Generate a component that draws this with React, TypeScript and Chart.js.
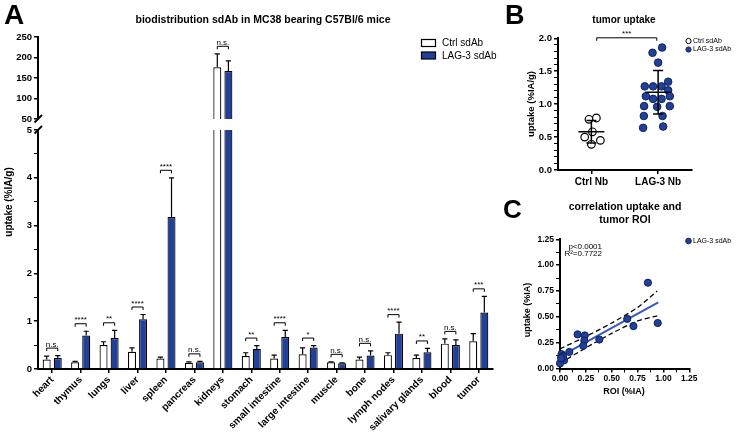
import React, { useEffect, useRef } from 'react';
import { Chart, registerables } from 'chart.js';

Chart.register(...registerables);

const W = 737;
const H = 433;
const FF = '"Liberation Sans", Arial, Helvetica, sans-serif';
const NAVY = '#21409a';
const NAVY_EDGE = '#0f2260';
const INK = '#000000';

// ---------------- Panel A : biodistribution ----------------
const organs = ['heart', 'thymus', 'lungs', 'liver', 'spleen', 'pancreas', 'kidneys', 'stomach', 'small intestine', 'large intestine', 'muscle', 'bone', 'lymph nodes', 'salivary glands', 'blood', 'tumor'];
const ctrlMean = [0.20, 0.14, 0.50, 0.36, 0.22, 0.13, 176, 0.27, 0.22, 0.31, 0.14, 0.20, 0.29, 0.23, 0.53, 0.58];
const ctrlSD = [0.07, 0.02, 0.07, 0.08, 0.03, 0.02, 33, 0.07, 0.07, 0.13, 0.01, 0.05, 0.05, 0.06, 0.10, 0.16];
const lagMean = [0.23, 0.70, 0.65, 1.04, 3.18, 0.14, 167, 0.42, 0.67, 0.45, 0.12, 0.28, 0.74, 0.35, 0.50, 1.18];
const lagSD = [0.05, 0.09, 0.16, 0.10, 0.82, 0.02, 25, 0.07, 0.14, 0.04, 0.01, 0.10, 0.24, 0.08, 0.11, 0.34];
const sigLabels = ['n.s.', '****', '**', '****', '****', 'n.s.', 'n.s.', '**', '****', '*', 'n.s.', 'n.s.', '****', '**', 'n.s.', '***'];
const seriesNames = ['Ctrl sdAb', 'LAG-3 sdAb'];

// ---------------- Panel B : tumor uptake ----------------
const groupLabels = ['Ctrl Nb', 'LAG-3 Nb'];
const ctrlTumor = [0.77, 0.79, 0.58, 0.50, 0.45, 0.39];
const ctrlTumorJitter = [-0.036, 0.075, 0.015, -0.10, 0.135, 0.0];
const lagTumor = [1.86, 1.78, 1.63, 1.34, 1.27, 1.27, 1.27, 1.21, 1.12, 1.12, 1.08, 1.08, 0.97, 0.97, 0.96, 0.82, 0.82, 0.64, 0.66];
const lagTumorJitter = [0.06, -0.084, 0.0, 0.15, -0.2, -0.075, 0.051, 0.15, -0.184, 0.175, -0.075, 0.051, -0.21, 0.175, -0.015, -0.214, 0.066, -0.225, 0.075];
const groupMean = [0.58, 1.18];
const groupSD = [0.17, 0.33];

// ---------------- Panel C : correlation ----------------
const roi = [0.85, 0.945, 0.65, 0.71, 0.38, 0.17, 0.24, 0.235, 0.225, 0.09, 0.015, 0.025, 0.04, 0.0, 0.03, 0.01];
const roiUptake = [0.83, 0.44, 0.48, 0.41, 0.28, 0.33, 0.32, 0.27, 0.22, 0.16, 0.14, 0.12, 0.08, 0.05, 0.11, 0.10];
const fitX = [0, 0.95];
const fitY = [0.115, 0.64];
const bandX = [0, 0.25, 0.5, 0.75, 0.94];
const bandUpper = [0.19, 0.31, 0.44, 0.59, 0.75];
const bandLower = [0.05, 0.20, 0.34, 0.46, 0.51];

// ---------------- helpers ----------------
type TextItem = { t: string; x: number; y: number; size: number; bold?: boolean; align?: CanvasTextAlign; rot?: number; base?: CanvasTextBaseline; italic?: boolean };

function textPlugin(items: TextItem[]) {
  return {
    id: 'pageText',
    afterDraw(chart: any) {
      const ctx = chart.ctx;
      items.forEach((it) => {
        ctx.save();
        ctx.fillStyle = INK;
        ctx.font = `${it.italic ? 'italic ' : ''}${it.bold ? 'bold ' : ''}${it.size}px ${FF}`;
        ctx.textAlign = it.align || 'center';
        ctx.textBaseline = it.base || 'middle';
        ctx.translate(it.x, it.y);
        if (it.rot) ctx.rotate(it.rot);
        ctx.fillText(it.t, 0, 0);
        ctx.restore();
      });
    },
  };
}

function drawFn(id: string, fn: (chart: any, ctx: CanvasRenderingContext2D) => void, after = 'afterDraw') {
  return {
    id,
    [after](chart: any) {
      const ctx = chart.ctx;
      ctx.save();
      fn(chart, ctx);
      ctx.restore();
    },
  };
}

const boldFont = (size: number) => ({ family: FF, size, weight: 'bold' as const });

function valueAxis(min: number, max: number, step: number, width: number, fontSize: number, label: (v: number) => string) {
  return {
    type: 'linear',
    min,
    max,
    afterFit: (s: any) => { s.width = width; },
    ticks: { stepSize: step, maxTicksLimit: 1000, autoSkip: false, color: INK, font: boldFont(fontSize), padding: 2, callback: (v: number) => label(v) },
    grid: {
      display: true, drawOnChartArea: false, drawTicks: true, tickLength: 4, color: INK,
      lineWidth: (c: any) => (c.tick && label(c.tick.value) !== '' ? 1.5 : 1),
    },
    border: { display: true, color: INK, width: 2 },
  };
}

function barAnnotations(sdSets: number[][], labels: string[]) {
  return drawFn('barAnnotations', (chart, ctx) => {
    const y = chart.scales.y;
    const tops: (number | null)[][] = [];
    ctx.strokeStyle = INK;
    ctx.lineWidth = 1.2;
    chart.data.datasets.forEach((ds: any, d: number) => {
      const meta = chart.getDatasetMeta(d);
      tops[d] = [];
      meta.data.forEach((el: any, i: number) => {
        const v = ds.data[i];
        if (v == null) { tops[d][i] = null; return; }
        const top = v + sdSets[d][i];
        if (top > y.max) { tops[d][i] = null; return; }
        const py = y.getPixelForValue(top);
        tops[d][i] = py;
        ctx.beginPath();
        ctx.moveTo(el.x, el.y);
        ctx.lineTo(el.x, py);
        ctx.moveTo(el.x - 2.6, py);
        ctx.lineTo(el.x + 2.6, py);
        ctx.stroke();
      });
    });
    ctx.lineWidth = 1;
    ctx.fillStyle = INK;
    ctx.font = `8px ${FF}`;
    ctx.textAlign = 'center';
    ctx.textBaseline = 'alphabetic';
    labels.forEach((lab, i) => {
      const a = tops[0][i];
      const b = tops[1][i];
      if (a == null || b == null) return;
      const ea = chart.getDatasetMeta(0).data[i];
      const eb = chart.getDatasetMeta(1).data[i];
      const by = Math.min(a, b) - 7.5;
      ctx.beginPath();
      ctx.moveTo(ea.x, by + 3);
      ctx.lineTo(ea.x, by);
      ctx.lineTo(eb.x, by);
      ctx.lineTo(eb.x, by + 3);
      ctx.stroke();
      ctx.fillText(lab, (ea.x + eb.x) / 2, by - 1.5);
    });
  }, 'afterDatasetsDraw');
}

const baseOptions = {
  responsive: false,
  animation: false,
  devicePixelRatio: 1,
  events: [],
  plugins: { legend: { display: false }, title: { display: false }, tooltip: { enabled: false } },
};

function barDatasets(ctrl: (number | null)[], lag: (number | null)[]) {
  return [
    { label: seriesNames[0], data: ctrl, backgroundColor: '#ffffff', borderColor: INK, borderWidth: 1.2, barPercentage: 0.72, categoryPercentage: 0.78, clip: 0 },
    { label: seriesNames[1], data: lag, backgroundColor: NAVY, borderColor: INK, borderWidth: 1.2, barPercentage: 0.72, categoryPercentage: 0.78, clip: 0 },
  ];
}

function upperConfig(): any {
  const ctrlUp = ctrlMean.map((v) => (v > 5 ? v : null));
  const lagUp = lagMean.map((v) => (v > 5 ? v : null));
  return {
    type: 'bar',
    data: { labels: organs, datasets: barDatasets(ctrlUp, lagUp) },
    options: {
      ...baseOptions,
      layout: { padding: { left: 0, top: 37, right: W - 493, bottom: H - 119 } },
      scales: {
        x: { display: false },
        y: valueAxis(50, 250, 50, 38, 9.5, (v) => String(v)),
      },
    },
    plugins: [
      barAnnotations([ctrlSD, lagSD], sigLabels),
      drawFn('breakUpper', (chart, ctx) => {
        ctx.strokeStyle = INK;
        ctx.lineWidth = 1.8;
        ctx.beginPath();
        ctx.moveTo(34.5, 122.5);
        ctx.lineTo(42, 115);
        ctx.stroke();
      }),
      drawFn('legendA', (chart, ctx) => {
        const fills = ['#ffffff', NAVY];
        const ys = [39.5, 52];
        ctx.lineWidth = 1.2;
        ctx.strokeStyle = INK;
        ctx.font = `10px ${FF}`;
        ctx.textAlign = 'left';
        ctx.textBaseline = 'middle';
        seriesNames.forEach((name, i) => {
          ctx.fillStyle = fills[i];
          ctx.fillRect(421.5, ys[i], 14, 7);
          ctx.strokeRect(421.5, ys[i], 14, 7);
          ctx.fillStyle = INK;
          ctx.fillText(name, 442, ys[i] + 3.8);
        });
      }),
      textPlugin([
        { t: 'A', x: 4, y: 23.5, size: 28, bold: true, align: 'left', base: 'alphabetic' },
        { t: 'biodistribution sdAb in MC38 bearing C57Bl/6 mice', x: 263, y: 20, size: 10.5, bold: true },
      ]),
    ],
  };
}

function lowerConfig(): any {
  return {
    type: 'bar',
    data: { labels: organs, datasets: barDatasets(ctrlMean, lagMean) },
    options: {
      ...baseOptions,
      layout: { padding: { left: 0, top: 130, right: W - 493, bottom: 0 } },
      scales: {
        x: {
          type: 'category',
          afterFit: (s: any) => { s.height = 64; },
          ticks: { color: INK, font: boldFont(10), minRotation: 45, maxRotation: 45, autoSkip: false, padding: 1 },
          grid: { display: true, offset: false, drawOnChartArea: false, drawTicks: true, tickLength: 4, color: INK, lineWidth: 1.5 },
          border: { display: true, color: INK, width: 2 },
        },
        y: valueAxis(0, 5, 0.5, 38, 9.5, (v) => (Math.abs(v - Math.round(v)) < 1e-6 ? String(Math.round(v)) : '')),
      },
    },
    plugins: [
      barAnnotations([ctrlSD, lagSD], sigLabels),
      drawFn('breakLower', (chart, ctx) => {
        ctx.strokeStyle = INK;
        ctx.lineWidth = 1.8;
        ctx.beginPath();
        ctx.moveTo(34.5, 133.5);
        ctx.lineTo(42, 126);
        ctx.stroke();
      }),
      textPlugin([
        { t: 'uptake (%IA/g)', x: 9.5, y: 202, size: 10, bold: true, rot: -Math.PI / 2 },
      ]),
    ],
  };
}

function tumorConfig(): any {
  const ctrlPts = ctrlTumor.map((v, i) => ({ x: 0.5 + ctrlTumorJitter[i], y: v }));
  const lagPts = lagTumor.map((v, i) => ({ x: 1.5 + lagTumorJitter[i], y: v }));
  return {
    type: 'scatter',
    data: {
      datasets: [
        { label: seriesNames[0], data: ctrlPts, pointRadius: 3.8, pointBackgroundColor: '#ffffff', pointBorderColor: INK, pointBorderWidth: 1.2, clip: false },
        { label: seriesNames[1], data: lagPts, pointRadius: 3.8, pointBackgroundColor: NAVY, pointBorderColor: NAVY_EDGE, pointBorderWidth: 1, clip: false },
      ],
    },
    options: {
      ...baseOptions,
      layout: { padding: { left: 528, top: 38.3, right: W - 691.5, bottom: H - 170 - 20 } },
      scales: {
        x: {
          type: 'linear',
          min: 0,
          max: groupLabels.length,
          afterFit: (s: any) => { s.height = 20; },
          afterBuildTicks: (s: any) => { s.ticks = groupLabels.map((_, i) => ({ value: i + 0.5 })); },
          ticks: { color: INK, font: boldFont(10), padding: 2, autoSkip: false, maxRotation: 0, callback: (_v: number, i: number) => groupLabels[i] },
          grid: { display: true, drawOnChartArea: false, drawTicks: true, tickLength: 4, color: INK, lineWidth: 1.5 },
          border: { display: true, color: INK, width: 2 },
        },
        y: valueAxis(0, 2, 0.1, 30, 9.5, (v) => {
          const r = Math.round(v * 10);
          return r % 5 === 0 ? (r / 10).toFixed(1) : '';
        }),
      },
    },
    plugins: [
      drawFn('meanSD', (chart, ctx) => {
        const xs = chart.scales.x;
        const ys = chart.scales.y;
        ctx.strokeStyle = INK;
        ctx.lineWidth = 1.5;
        groupMean.forEach((m, g) => {
          const xc = xs.getPixelForValue(g + 0.5);
          const ym = ys.getPixelForValue(m);
          const yt = ys.getPixelForValue(m + groupSD[g]);
          const yb = ys.getPixelForValue(m - groupSD[g]);
          ctx.beginPath();
          ctx.moveTo(xc - 13, ym); ctx.lineTo(xc + 13, ym);
          ctx.moveTo(xc, yt); ctx.lineTo(xc, yb);
          ctx.moveTo(xc - 5, yt); ctx.lineTo(xc + 5, yt);
          ctx.moveTo(xc - 5, yb); ctx.lineTo(xc + 5, yb);
          ctx.stroke();
        });
        // significance bracket
        const x1 = xs.getPixelForValue(0.58);
        const x2 = xs.getPixelForValue(1.48);
        const by = ys.getPixelForValue(2.0) - 0.5;
        ctx.lineWidth = 1;
        ctx.beginPath();
        ctx.moveTo(x1, by + 3); ctx.lineTo(x1, by); ctx.lineTo(x2, by); ctx.lineTo(x2, by + 3);
        ctx.stroke();
        ctx.fillStyle = INK;
        ctx.font = `8px ${FF}`;
        ctx.textAlign = 'center';
        ctx.textBaseline = 'alphabetic';
        ctx.fillText('***', (x1 + x2) / 2, by - 1.5);
        // legend
        const fills = ['#ffffff', NAVY];
        const lys = [41, 49.5];
        ctx.font = `7px ${FF}`;
        ctx.textAlign = 'left';
        ctx.textBaseline = 'middle';
        seriesNames.forEach((name, i) => {
          ctx.beginPath();
          ctx.arc(688.5, lys[i], 2.6, 0, Math.PI * 2);
          ctx.fillStyle = fills[i];
          ctx.fill();
          ctx.lineWidth = 1;
          ctx.strokeStyle = i === 0 ? INK : NAVY_EDGE;
          ctx.stroke();
          ctx.fillStyle = INK;
          ctx.fillText(name, 693, lys[i]);
        });
      }, 'afterDatasetsDraw'),
      textPlugin([
        { t: 'B', x: 505, y: 24, size: 27, bold: true, align: 'left', base: 'alphabetic' },
        { t: 'tumor uptake', x: 624, y: 20.5, size: 10, bold: true },
        { t: 'uptake (%IA/g)', x: 531.5, y: 104, size: 9.5, bold: true, rot: -Math.PI / 2 },
      ]),
    ],
  };
}

function corrConfig(): any {
  const pts = roi.map((x, i) => ({ x, y: roiUptake[i] }));
  const fit = fitX.map((x, i) => ({ x, y: fitY[i] }));
  const up = bandX.map((x, i) => ({ x, y: bandUpper[i] }));
  const lo = bandX.map((x, i) => ({ x, y: bandLower[i] }));
  const lineDs = (data: any[], color: string, width: number, dash: number[]) => ({
    data, showLine: true, pointRadius: 0, borderColor: color, borderWidth: width, borderDash: dash, tension: 0.25, clip: false, fill: false,
  });
  const tickLabel = (v: number) => {
    const r = Math.round(v * 1000);
    return r % 250 === 0 ? (r / 1000).toFixed(2) : '';
  };
  return {
    type: 'scatter',
    data: {
      datasets: [
        { label: seriesNames[1], data: pts, pointRadius: 3.6, pointBackgroundColor: NAVY, pointBorderColor: NAVY_EDGE, pointBorderWidth: 1, clip: false },
        lineDs(fit, '#3558c0', 2, []),
        lineDs(up, INK, 1.3, [5, 3]),
        lineDs(lo, INK, 1.3, [5, 3]),
      ],
    },
    options: {
      ...baseOptions,
      layout: { padding: { left: 528, top: 239.3, right: W - 689.3, bottom: H - 368.5 - 16 } },
      scales: {
        x: {
          ...valueAxis(0, 1.25, 0.125, 0, 8.5, tickLabel),
          afterFit: (s: any) => { s.height = 16; },
          ticks: { stepSize: 0.125, maxTicksLimit: 1000, autoSkip: false, color: INK, font: boldFont(8.5), padding: 1, maxRotation: 0, callback: (v: number) => tickLabel(v) },
        },
        y: valueAxis(0, 1.25, 0.125, 32, 8.5, tickLabel),
      },
    },
    plugins: [
      drawFn('legendC', (chart, ctx) => {
        ctx.beginPath();
        ctx.arc(688.5, 241, 2.8, 0, Math.PI * 2);
        ctx.fillStyle = NAVY;
        ctx.fill();
        ctx.lineWidth = 1;
        ctx.strokeStyle = NAVY_EDGE;
        ctx.stroke();
        ctx.fillStyle = INK;
        ctx.font = `7px ${FF}`;
        ctx.textAlign = 'left';
        ctx.textBaseline = 'middle';
        ctx.fillText(seriesNames[1], 693, 241);
      }),
      textPlugin([
        { t: 'C', x: 503, y: 218, size: 26, bold: true, align: 'left', base: 'alphabetic' },
        { t: 'correlation uptake and', x: 625, y: 207, size: 10.5, bold: true },
        { t: 'tumor ROI', x: 625, y: 220, size: 10.5, bold: true },
        { t: 'p<0.0001', x: 602, y: 247, size: 8, align: 'right' },
        { t: 'R²=0.7722', x: 602, y: 254, size: 8, align: 'right' },
        { t: 'uptake (%IA)', x: 528, y: 310, size: 9, bold: true, rot: -Math.PI / 2 },
        { t: 'ROI (%IA)', x: 624, y: 392, size: 9, bold: true },
      ]),
    ],
  };
}

export default function App() {
  const r0 = useRef<HTMLCanvasElement | null>(null);
  const r1 = useRef<HTMLCanvasElement | null>(null);
  const r2 = useRef<HTMLCanvasElement | null>(null);
  const r3 = useRef<HTMLCanvasElement | null>(null);
  const refs = [r0, r1, r2, r3];

  useEffect(() => {
    const configs = [upperConfig(), lowerConfig(), tumorConfig(), corrConfig()];
    const charts = configs.map((cfg, i) => new Chart(refs[i].current as HTMLCanvasElement, cfg));
    return () => charts.forEach((c) => c.destroy());
  }, []);

  return (
    <div style={{ position: 'fixed', left: 0, top: 0, width: W, height: H, background: '#ffffff', overflow: 'hidden' }}>
      {refs.map((r, i) => (
        <canvas key={i} ref={r} width={W} height={H} style={{ position: 'absolute', left: 0, top: 0, width: W, height: H }} />
      ))}
    </div>
  );
}
